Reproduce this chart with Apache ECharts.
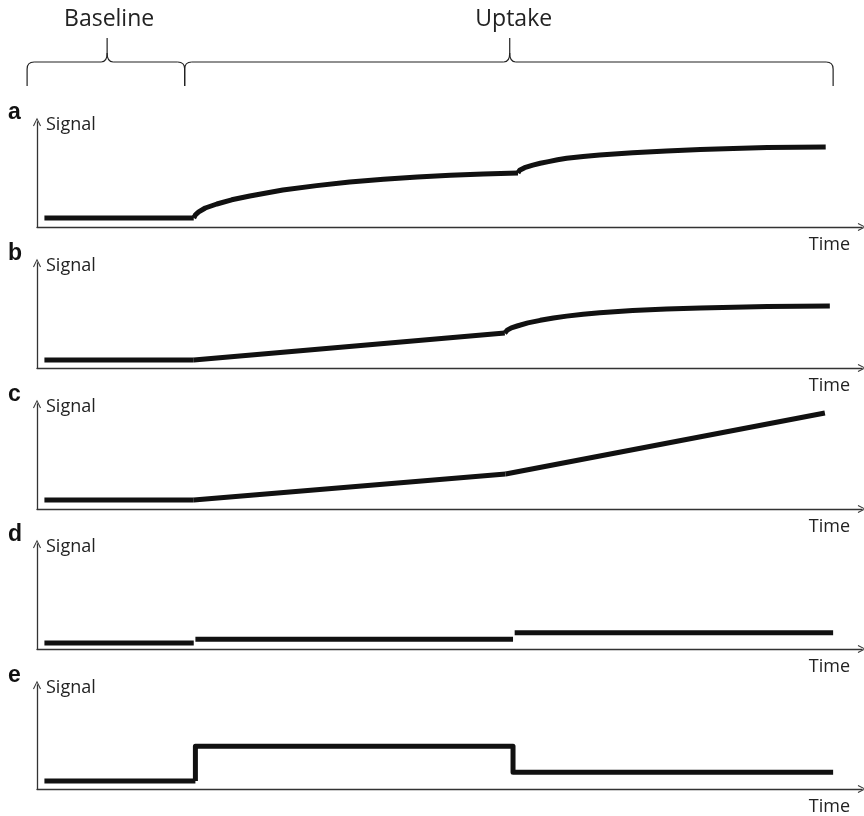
<!DOCTYPE html>
<html>
<head>
<meta charset="utf-8">
<script src="https://cdn.jsdelivr.net/npm/echarts@6/dist/echarts.min.js"></script>
<style>
html,body{margin:0;padding:0;background:#fff;}
#chart{width:864px;height:816px;}
</style>
</head>
<body>
<div id="chart"></div>
<script>
// ---- data (time 0-100, signal 0-100, arbitrary units) ----
const panelLetters = ['a', 'b', 'c', 'd', 'e'];
const phaseLabels = ['Baseline', 'Uptake'];
const phaseBounds = [-1.2, 17.9, 96.5];     // brace ends in time units
const phaseApex = [8.5, 57.3];               // brace apex in time units
const yAxisName = 'Signal';
const xAxisName = 'Time';

const aBaseline = [[0.9, 8.6], [19.0, 8.6]];
const aUptake1 = [[19.0, 8.6], [19.2, 11.5], [19.6, 14.3], [20.4, 18.1], [21.8, 21.9], [23.6, 25.9], [25.8, 29.5], [29.8, 35.2], [33.9, 39.4], [37.9, 42.9], [42.0, 45.5], [46.1, 47.6], [50.1, 49.2], [54.1, 50.5], [58.3, 51.4]];
const aUptake2 = [[58.3, 51.4], [58.5, 54.0], [59.1, 56.5], [60.1, 58.9], [61.0, 60.7], [62.0, 62.3], [63.1, 64.0], [64.2, 65.4], [66.2, 67.2], [68.2, 68.6], [72.2, 70.7], [76.3, 72.3], [80.4, 73.7], [84.4, 74.8], [88.5, 75.6], [95.6, 76.2]];

const bBaseline = [[0.9, 7.6], [19.0, 7.6]];
const bUptake1 = [[19.0, 7.6], [56.7, 33.3]];
const bUptake2 = [[56.7, 33.3], [57.0, 36.0], [57.5, 38.3], [58.2, 40.0], [59.5, 43.0], [61.0, 45.4], [62.6, 47.6], [64.2, 49.4], [66.2, 51.2], [68.2, 52.6], [72.2, 54.7], [76.3, 56.1], [80.4, 57.1], [88.5, 58.6], [96.1, 59.0]];

const cBaseline = [[0.9, 8.6], [19.0, 8.6]];
const cUptake1 = [[19.0, 8.6], [56.8, 33.3]];
const cUptake2 = [[56.8, 33.3], [95.5, 91.4]];

const dBaseline = [[0.9, 5.7], [19.0, 5.7]];
const dUptake1 = [[19.2, 9.2], [57.7, 9.2]];
const dUptake2 = [[57.9, 15.5], [96.5, 15.5]];

const eBaseline = [[0.9, 7.6], [19.2, 7.6]];
const eUptake = [[19.2, 7.6], [19.2, 41.0], [57.7, 41.0], [57.7, 16.2], [96.5, 16.2]];

const panelSegments = [
  [aBaseline, aUptake1, aUptake2],
  [bBaseline, bUptake1, bUptake2],
  [cBaseline, cUptake1, cUptake2],
  [dBaseline, dUptake1, dUptake2],
  [eBaseline, eUptake]
];

// ---- layout ----
const FONT = '"Open Sans"';
const gridLeft = 37, gridRight = 2, gridH = 105;
const firstTop = 122, panelStep = 140.75;
const arrowPath = 'path://M0,10 L5,0 L10,10 L8.8,10.6 L5,2.6 L1.2,10.6 Z';
const axisColor = '#333';

const grids = [], xAxes = [], yAxes = [], series = [], graphics = [];
panelLetters.forEach((L, i) => {
  const top = Math.round(firstTop + i * panelStep);
  grids.push({left: gridLeft, right: gridRight, top: top, height: gridH});
  xAxes.push({
    gridIndex: i, type: 'value', min: 0, max: 100,
    axisLine: {show: true, onZero: false, symbol: ['none', arrowPath], symbolSize: [8, 11],
      lineStyle: {color: axisColor, width: 1.3}},
    axisTick: {show: false}, axisLabel: {show: false}, splitLine: {show: false},
    name: xAxisName, nameLocation: 'end', nameGap: -12,
    nameTextStyle: {fontFamily: 'Open Sans', fontSize: 18, color: '#222', align: 'right', verticalAlign: 'top', padding: [9, 0, 0, 0]}
  });
  yAxes.push({
    gridIndex: i, type: 'value', min: 0, max: 100,
    axisLine: {show: true, onZero: false, symbol: ['none', arrowPath], symbolSize: [8, 11],
      lineStyle: {color: axisColor, width: 1.3}},
    axisTick: {show: false}, axisLabel: {show: false}, splitLine: {show: false},
    name: yAxisName, nameLocation: 'end', nameGap: -3,
    nameTextStyle: {fontFamily: 'Open Sans', fontSize: 18, color: '#222', align: 'left', verticalAlign: 'middle', padding: [0, 0, 0, 9]}
  });
  panelSegments[i].forEach(seg => {
    series.push({
      type: 'line', xAxisIndex: i, yAxisIndex: i, data: seg,
      smooth: false, showSymbol: false, symbol: 'none', animation: false,
      lineStyle: {color: '#111', width: 5, cap: 'butt', join: 'round'}
    });
  });
  graphics.push({
    type: 'text', left: 8, top: top - 21,
    style: {text: L, font: 'bold 23px "Liberation Sans"', fill: '#111'}
  });
});

const chart = echarts.init(document.getElementById('chart'), null, {renderer: 'canvas'});
chart.setOption({
  animation: false,
  backgroundColor: '#fff',
  grid: grids, xAxis: xAxes, yAxis: yAxes, series: series,
  graphic: graphics
});

// braces and phase labels, positioned from the time axis of panel a
const px = t => chart.convertToPixel({gridIndex: 0}, [t, 0])[0];
const yTop = 62, yEnd = 86, yApex = 38, yStem = 53, r = 7;
const st = {stroke: '#222', lineWidth: 1.2, fill: null};
const braceEls = [];
const ln = (x1, y1, x2, y2) => braceEls.push({type: 'line', shape: {x1, y1, x2, y2}, style: st});
const qc = (x1, y1, cx, cy, x2, y2) => braceEls.push({type: 'bezierCurve', shape: {x1, y1, x2, y2, cpx1: cx, cpy1: cy}, style: st});
phaseLabels.forEach((lab, k) => {
  const x0 = px(phaseBounds[k]), x1 = px(phaseBounds[k + 1]), xm = px(phaseApex[k]);
  ln(x0, yEnd, x0, yTop + r);
  qc(x0, yTop + r, x0, yTop, x0 + r, yTop);
  ln(x0 + r, yTop, xm - 6, yTop);
  qc(xm - 6, yTop, xm, yTop, xm, yStem);
  ln(xm, yStem, xm, yApex);
  qc(xm, yStem, xm, yTop, xm + 6, yTop);
  ln(xm + 6, yTop, x1 - r, yTop);
  qc(x1 - r, yTop, x1, yTop, x1, yTop + r);
  ln(x1, yTop + r, x1, yEnd);
  braceEls.push({type: 'text', x: xm + 2 + 2 * k, y: 19,
    style: {text: lab, font: `23px ${FONT}`, fill: '#222', align: 'center', verticalAlign: 'middle'}});
});
chart.setOption({graphic: graphics.concat(braceEls)});
</script>
</body>
</html>
